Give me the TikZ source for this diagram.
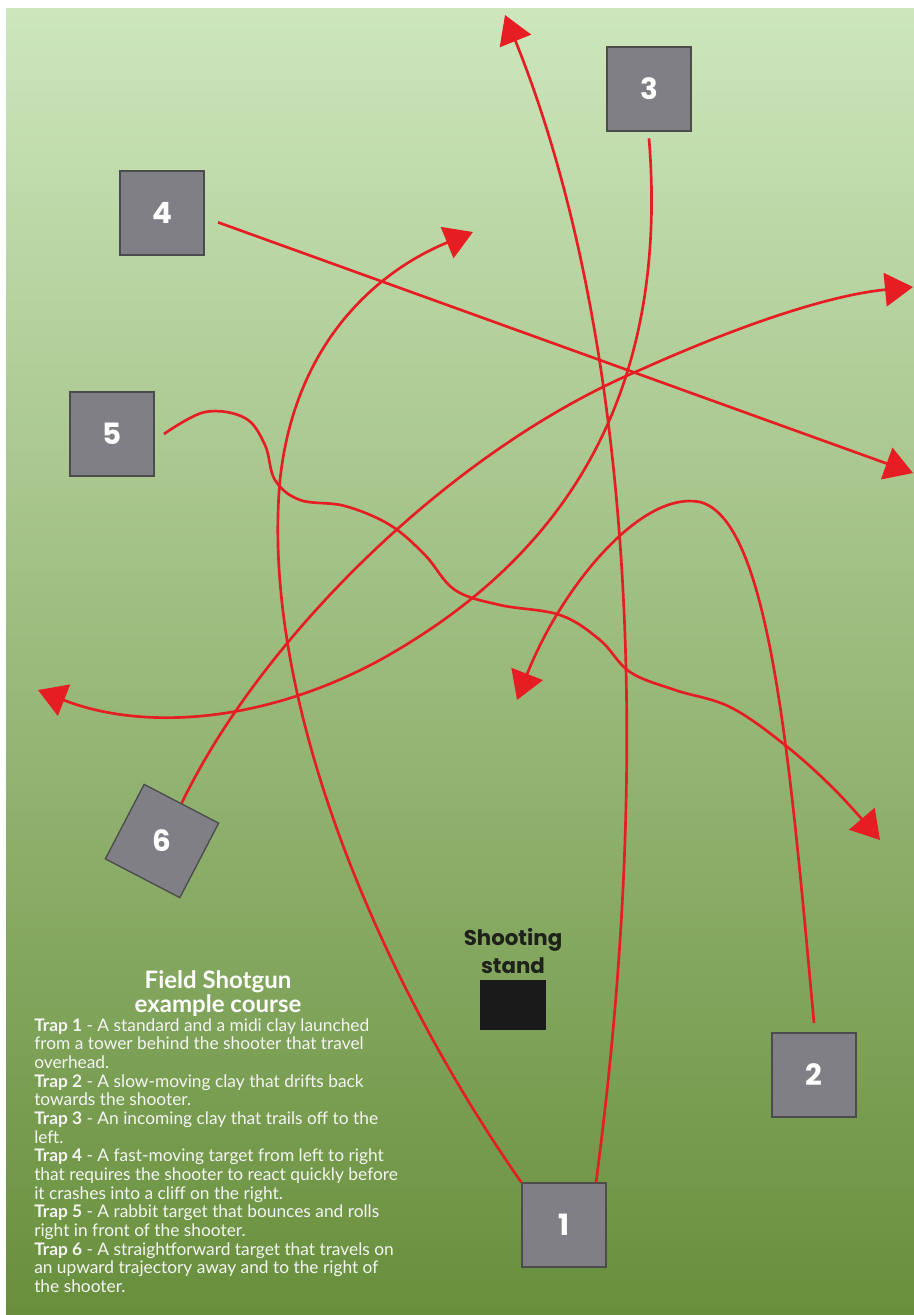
\documentclass[tikz,border=0pt]{standalone}
\usepackage{fontspec}
\setmainfont{Lato}
\newfontfamily\geofont{Poppins}
\usetikzlibrary{arrows.meta,calc}
\definecolor{clayred}{RGB}{230,30,36}
\definecolor{trapgray}{RGB}{128,127,134}
\definecolor{grasstop}{RGB}{205,230,188}
\definecolor{grassmid}{RGB}{148,184,110}
\definecolor{grassbot}{RGB}{104,143,60}
\definecolor{standcol}{RGB}{26,26,26}
\definecolor{standtext}{RGB}{30,34,26}
\tikzset{
  % trap house
  trapbox/.style={rectangle, draw=black!70, line width=1pt, fill=trapgray, minimum size=63pt,
                  inner sep=0pt, text=white, font=\geofont\bfseries\fontsize{22}{22}\selectfont},
  % number on a tilted trap house
  trapnum/.style={text=white, font=\geofont\bfseries\fontsize{22}{22}\selectfont, inner sep=0pt},
  % clay flight line
  flight/.style={draw=clayred, line width=2pt, -{Triangle[length=21pt,width=25pt]}},
  % shooting stand
  standbox/.style={rectangle, fill=standcol, minimum width=49.5pt, minimum height=38pt, inner sep=0pt},
  standlabel/.style={font=\geofont\bfseries\fontsize{16}{21}\selectfont, text=standtext, align=center, inner sep=0pt},
  % course notes
  titletext/.style={font=\bfseries\fontsize{18}{18}\selectfont, text=white, align=center, inner sep=0pt},
  notetext/.style={font=\fontsize{13}{14}\selectfont, text=white!96!black, align=left, inner sep=0pt},
}
\begin{document}
\begin{tikzpicture}[x=0.75pt, y=-0.75pt]
  \useasboundingbox (0,0) rectangle (914,1315);
  \fill[white] (0,0) rectangle (914,1315);
  \shade[top color=grasstop, middle color=grassmid, bottom color=grassbot] (6,8) rectangle (914,1315);

  % traps
  \node[trapbox] (b1) at (564,1225) {1};
  \node[trapbox] (b2) at (814,1075) {2};
  \node[trapbox] (b3) at (649,89) {3};
  \node[trapbox] (b4) at (162,213) {4};
  \node[trapbox] (b5) at (112,434) {5};
  \node[trapbox, rotate=-27.5, label={[trapnum]center:6}] (b6) at (162,841) {};

  % stand
  \node[standbox] (stand) at (513,1005) {};
  \node[standlabel, above=4pt] (standlbl) at (stand.north) {Shooting\\stand};

  % where the clays end up
  \coordinate (e1a) at (473,232);
  \coordinate (e1b) at (505,15);
  \coordinate (e2) at (517,700);
  \coordinate (e3) at (38,690);
  \coordinate (e4) at (913,473);
  \coordinate (e5) at (880,840);
  \coordinate (e6) at (913,287);

  \draw[flight] (b1.north west) .. controls (380,980) and (260,700) .. (280,480)
                .. controls (295,340) and (380,270) .. (e1a);
  \draw[flight] ([xshift=-8pt]b1.north east) .. controls (660,700) and (620,300) .. (e1b);
  \draw[flight] ([yshift=7pt]b2.north) .. controls (790,760) and (770,520) .. (700,502)
                .. controls (640,490) and (560,590) .. (e2);
  \draw[flight] ([yshift=-5pt]b3.south) .. controls (670,400) and (560,560) .. (380,660)
                .. controls (260,725) and (140,730) .. (e3);
  \draw[flight] ([xshift=10pt,yshift=-7pt]b4.east) -- (e4);
  \draw[flight] plot[smooth, tension=0.6] coordinates {([xshift=7pt]b5.east) (205,412) (245,418) (265,445)
                (275,480) (300,500) (345,506) (390,525) (425,555) (455,590) (500,605) (560,615)
                (600,640) (630,672) (675,690) (730,707) (785,745) (835,790) (e5)};
  \draw[flight] (b6.north) .. controls (260,640) and (450,450) .. (640,370)
                .. controls (740,325) and (830,295) .. (e6);

  % notes
  \node[titletext] (title) at (218,994) {Field Shotgun\\example course};
  \node[notetext, anchor=north west] (notes) at (34,1018) {%
    {\bfseries Trap 1} - A standard and a midi clay launched\\
    from a tower behind the shooter that travel\\
    overhead.\\
    {\bfseries Trap 2} - A slow-moving clay that drifts back\\
    towards the shooter.\\
    {\bfseries Trap 3} - An incoming clay that trails off to the\\
    left.\\
    {\bfseries Trap 4} - A fast-moving target from left to right\\
    that requires the shooter to react quickly before\\
    it crashes into a cliff on the right.\\
    {\bfseries Trap 5} - A rabbit target that bounces and rolls\\
    right in front of the shooter.\\
    {\bfseries Trap 6} - A straightforward target that travels on\\
    an upward trajectory away and to the right of\\
    the shooter.};
\end{tikzpicture}
\end{document}
